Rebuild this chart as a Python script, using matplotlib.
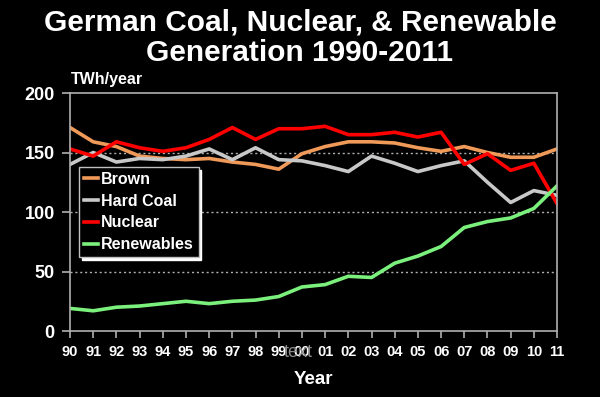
import matplotlib
matplotlib.use("Agg")
import matplotlib.pyplot as plt

plt.rcParams['font.family'] = ['Liberation Sans', 'DejaVu Sans']
plt.rcParams['font.weight'] = 'bold'

years = ["90", "91", "92", "93", "94", "95", "96", "97", "98", "99", "00",
         "01", "02", "03", "04", "05", "06", "07", "08", "09", "10", "11"]
brown = [171, 159, 155, 147, 145, 144, 145, 142, 140, 136, 149,
         155, 159, 159, 158, 154, 151, 155, 150, 146, 146, 153]
hard_coal = [140, 150, 142, 145, 144, 147, 153, 144, 154, 144, 143,
             139, 134, 147, 141, 134, 139, 143, 125, 108, 118, 114]
nuclear = [153, 147, 159, 154, 151, 154, 161, 171, 161, 170, 170,
           172, 165, 165, 167, 163, 167, 140, 149, 135, 141, 107]
renewables = [19, 17, 20, 21, 23, 25, 23, 25, 26, 29, 37,
              39, 46, 45, 57, 63, 71, 87, 92, 95, 103, 122]

fig = plt.figure(figsize=(6, 3.97), dpi=100, facecolor='black')
ax = fig.add_axes([0.1167, 0.1662, 0.8117, 0.5995], facecolor='black')

x = range(len(years))
ax.plot(x, brown, color='#F09A5A', lw=2.6, label='Brown')
ax.plot(x, hard_coal, color='#C8C8C8', lw=2.6, label='Hard Coal')
ax.plot(x, nuclear, color='#FF0000', lw=2.6, label='Nuclear')
ax.plot(x, renewables, color='#7CF07C', lw=2.6, label='Renewables')

ax.set_xlim(0, len(years) - 1)
ax.set_ylim(0, 200)
ax.set_xticks(list(x))
ax.set_xticklabels(years)
ax.set_yticks([0, 50, 100, 150, 200])
for y in [50, 100, 150]:
    ax.axhline(y, color='#B0B0B0', lw=1, ls=(0, (1.5, 2)), zorder=0)

for s in ax.spines.values():
    s.set_color('#B0B0B0')
    s.set_linewidth(1.2)
ax.tick_params(axis='x', colors='#B0B0B0', labelcolor='white', labelsize=10.5,
               length=5, width=1.2, direction='out', pad=5)
ax.tick_params(axis='y', colors='#B0B0B0', labelcolor='white', labelsize=13,
               length=6, width=1.2, direction='out', pad=5)

leg = ax.legend(loc='upper left', bbox_to_anchor=(0.018, 0.688), fontsize=11.5,
                handlelength=0.9, handletextpad=0.2, labelspacing=0.42,
                borderpad=0.3, borderaxespad=0, fancybox=False,
                shadow={'color': 'white', 'alpha': 1},
                facecolor='black', edgecolor='#C0C0C0', framealpha=1)
leg.get_frame().set_linewidth(1.0)
for t in leg.get_texts():
    t.set_color('white')
    t.set_fontweight('bold')

fig.text(0.5, 0.905, "German Coal, Nuclear, & Renewable\nGeneration 1990-2011",
         ha='center', va='center', color='white', fontsize=21.5, fontweight='bold',
         linespacing=1.15)
fig.text(0.118, 0.801, "TWh/year", ha='left', va='center', color='white',
         fontsize=11.5, fontweight='bold')
fig.text(0.522, 0.043, "Year", ha='center', va='center', color='white',
         fontsize=13.5, fontweight='bold')
fig.text(0.497, 0.113, "text", ha='center', va='center', color='#8A8A8A',
         fontsize=13, fontweight='normal')

fig.savefig("out.png", dpi=100, facecolor='black')
